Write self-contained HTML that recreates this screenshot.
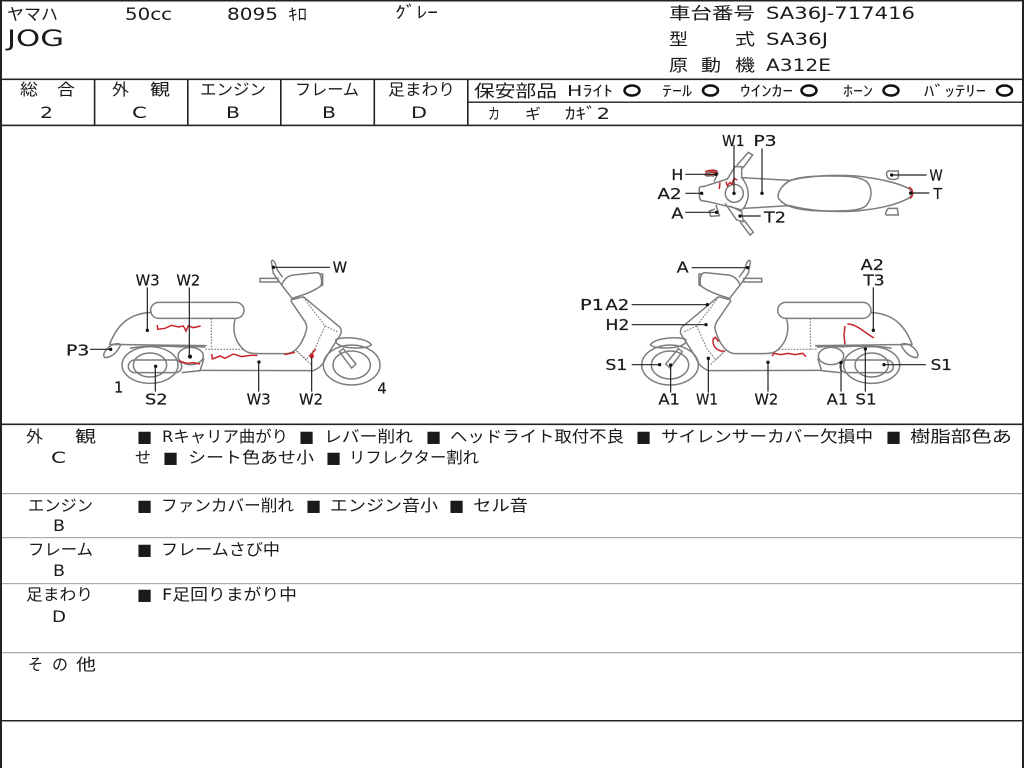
<!DOCTYPE html>
<html lang="ja"><head><meta charset="utf-8"><title>JOG</title>
<style>
html,body{margin:0;padding:0;background:#fff;width:1024px;height:768px;overflow:hidden}
svg{display:block}
text{font-family:"DejaVu Sans","Noto Sans CJK JP",sans-serif;fill:#1a1a1a}
.h{font-size:16.5px}.b{font-size:16px}
.z text{font-size:44px;stroke:#1a1a1a;stroke-width:.6}
.s{fill:none;stroke:#7d7d7d;stroke-width:4.5}
.d{fill:none;stroke:#808080;stroke-width:3.5;stroke-dasharray:5 4}
.r{fill:none;stroke:#c8242c;stroke-width:4.5}
.l{fill:none;stroke:#222;stroke-width:3.6}
.o{fill:none;stroke:#111;stroke-width:2.5}
</style></head><body>
<svg width="1024" height="768" viewBox="0 0 1024 768" xmlns="http://www.w3.org/2000/svg">
<rect width="1024" height="768" fill="#fff"/>
<!-- grid -->
<g fill="#222">
<rect x="0" y="0" width="1024" height="1.5"/>
<rect x="0" y="0" width="2" height="768"/>
<rect x="1022" y="0" width="2" height="768"/>
<rect x="0" y="78.5" width="1024" height="1.6"/>
<rect x="0" y="124.6" width="1024" height="1.6"/>
<rect x="467" y="101.5" width="557" height="1.4"/>
<rect x="93.8" y="79" width="1.6" height="46"/>
<rect x="187" y="79" width="1.6" height="46"/>
<rect x="280" y="79" width="1.6" height="46"/>
<rect x="373.500" y="79" width="1.6" height="46"/>
<rect x="467" y="79" width="1.6" height="46"/>
<rect x="0" y="423.500" width="1024" height="1.6"/>
<rect x="0" y="720" width="1024" height="1.5"/>
</g>
<g fill="#aaa">
<rect x="2" y="493" width="1020" height="1.2"/>
<rect x="2" y="537" width="1020" height="1.2"/>
<rect x="2" y="583" width="1020" height="1.2"/>
<rect x="2" y="652" width="1020" height="1.2"/>
</g>
<!-- header -->
<text class="h" x="7" y="20" textLength="51" lengthAdjust="spacingAndGlyphs">ヤマハ</text>
<text class="h" x="125" y="20" textLength="47" lengthAdjust="spacingAndGlyphs">50cc</text>
<text class="h" x="227" y="20" textLength="51" lengthAdjust="spacingAndGlyphs">8095</text>
<text class="h" x="288" y="20" textLength="19" lengthAdjust="spacingAndGlyphs">ｷﾛ</text>
<text class="h" x="395" y="18" textLength="43" lengthAdjust="spacingAndGlyphs">ｸﾞﾚｰ</text>
<text x="7" y="46" font-size="22" textLength="57" lengthAdjust="spacingAndGlyphs">JOG</text>
<text class="h" x="669" y="19" textLength="86" lengthAdjust="spacingAndGlyphs">車台番号</text>
<text class="h" x="766" y="19" textLength="149" lengthAdjust="spacingAndGlyphs">SA36J-717416</text>
<text class="h" x="669" y="45" textLength="19" lengthAdjust="spacingAndGlyphs">型</text>
<text class="h" x="735" y="45" textLength="20" lengthAdjust="spacingAndGlyphs">式</text>
<text class="h" x="766" y="45" textLength="62" lengthAdjust="spacingAndGlyphs">SA36J</text>
<text class="h" x="669" y="71" textLength="19" lengthAdjust="spacingAndGlyphs">原</text>
<text class="h" x="701" y="71" textLength="20" lengthAdjust="spacingAndGlyphs">動</text>
<text class="h" x="735" y="71" textLength="20" lengthAdjust="spacingAndGlyphs">機</text>
<text class="h" x="766" y="71" textLength="65" lengthAdjust="spacingAndGlyphs">A312E</text>
<!-- score row -->
<text class="b" x="20" y="95" textLength="18" lengthAdjust="spacingAndGlyphs">総</text>
<text class="b" x="57" y="95" textLength="18" lengthAdjust="spacingAndGlyphs">合</text>
<text class="b" x="40" y="118" textLength="13" lengthAdjust="spacingAndGlyphs">2</text>
<text class="b" x="112" y="95" textLength="17" lengthAdjust="spacingAndGlyphs">外</text>
<text class="b" x="150" y="95" textLength="20" lengthAdjust="spacingAndGlyphs">観</text>
<text class="b" x="132" y="118" textLength="15" lengthAdjust="spacingAndGlyphs">C</text>
<text class="b" x="200" y="95" textLength="66" lengthAdjust="spacingAndGlyphs">エンジン</text>
<text class="b" x="226" y="118" textLength="14" lengthAdjust="spacingAndGlyphs">B</text>
<text class="b" x="295" y="95" textLength="64" lengthAdjust="spacingAndGlyphs">フレーム</text>
<text class="b" x="322" y="118" textLength="14" lengthAdjust="spacingAndGlyphs">B</text>
<text class="b" x="388" y="95" textLength="67" lengthAdjust="spacingAndGlyphs">足まわり</text>
<text class="b" x="411" y="118" textLength="16" lengthAdjust="spacingAndGlyphs">D</text>
<!-- safety -->
<text x="474" y="97" font-size="17" textLength="83" lengthAdjust="spacingAndGlyphs">保安部品</text>
<text x="567" y="96" font-size="15" textLength="46" lengthAdjust="spacingAndGlyphs">Hﾗｲﾄ</text>
<ellipse class="o" cx="632" cy="90.5" rx="7.500" ry="5"/>
<text x="662" y="96" font-size="15" textLength="30" lengthAdjust="spacingAndGlyphs">ﾃｰﾙ</text>
<ellipse class="o" cx="710.500" cy="90.500" rx="7.500" ry="5"/>
<text x="740" y="96" font-size="15" textLength="53" lengthAdjust="spacingAndGlyphs">ｳｲﾝｶｰ</text>
<ellipse class="o" cx="809" cy="90.5" rx="7.500" ry="5"/>
<text x="843" y="96" font-size="15" textLength="30" lengthAdjust="spacingAndGlyphs">ﾎｰﾝ</text>
<ellipse class="o" cx="891" cy="90.5" rx="7.500" ry="5"/>
<text x="924" y="96" font-size="15" textLength="62" lengthAdjust="spacingAndGlyphs">ﾊﾞｯﾃﾘｰ</text>
<ellipse class="o" cx="1004.500" cy="90.500" rx="7.500" ry="5"/>
<text x="488" y="119" font-size="15" textLength="12" lengthAdjust="spacingAndGlyphs">カ</text>
<text x="525" y="119" font-size="15" textLength="16" lengthAdjust="spacingAndGlyphs">ギ</text>
<text x="565" y="119" font-size="16" textLength="45" lengthAdjust="spacingAndGlyphs">ｶｷﾞ2</text>

<defs>
<g id="sc">
<!-- seat -->
<rect class="s" x="302" y="157" width="280" height="48" rx="24" fill="#fff"/>
<!-- rear body -->
<path class="s" d="M178 285C195 240 225 190 305 187M180 283L305 285L470 287"/>
<path class="s" d="M165 323C158 318 160 305 178 290C188 282 205 278 212 284C205 300 190 322 165 323Z"/>
<!-- rear wheel and fender -->
<path class="s" d="M240 295C270 288 330 287 380 290C400 292 440 286 465 292"/>
<ellipse class="s" cx="300" cy="345" rx="84" ry="55"/>
<ellipse class="s" cx="300" cy="345" rx="50" ry="36"/>
<rect class="s" x="235" y="330" width="160" height="38" rx="19" fill="#fff"/>
<ellipse class="s" cx="422" cy="318" rx="38" ry="26" fill="#fff"/>
<path class="s" d="M395 368L450 362L462 325"/>
<!-- floor & shields -->
<path class="s" d="M452 361L790 362"/>
<path class="s" d="M556 205C545 240 555 275 580 298C595 312 610 310 630 311L710 311C735 310 755 285 768 245C772 232 770 225 765 215L722 152"/>
<path class="s" d="M760 140L870 232C878 245 872 255 862 268L828 322C822 335 818 350 790 362"/>
<path class="s" d="M722 150L760 140"/>
<!-- handlebar -->
<path class="s" d="M726 145L695 105C700 92 710 78 730 75L800 68C815 66 818 100 812 108C790 125 760 135 726 145Z"/>
<path class="s" d="M808 72L818 72L818 105L810 108"/>
<path class="s" d="M630 85L684 85L684 96L630 96Z" />
<path class="s" d="M695 105L670 70L664 34C668 28 672 32 676 42L682 60L698 82"/>
<!-- dashed -->
<path class="d" d="M484 205L484 298M466 298L580 298M760 142L825 228L866 247M825 228L795 295L768 330L735 298L785 345"/>
<!-- front wheel -->
<ellipse class="s" cx="905" cy="345" rx="85" ry="60"/>
<ellipse class="s" cx="905" cy="345" rx="56" ry="42"/>
<path class="s" d="M858 268C890 258 950 265 964 284C955 296 905 296 880 290C865 285 855 280 858 268Z" fill="#fff"/>
<path class="s" d="M868 305L880 296L918 342L905 354Z" fill="#fff"/>
</g>
</defs>

<!-- left scooter -->
<g class="z" transform="translate(50 250) scale(.33333)">
<use href="#sc"/>
<path class="r" d="M322 225L323 238L345 235L365 226L385 231L400 228L408 243L415 227L430 233L452 228"/>
<path class="r" d="M485 312L487 327L510 318L525 325L550 312L575 320L600 316L622 316"/>
<path class="r" d="M388 333L410 340L430 338L450 342"/>
<path class="r" d="M703 314L735 307"/>
<path class="r" d="M782 322L790 305L797 298" stroke-width="6"/>
<circle cx="785" cy="318" r="7" fill="#c8242c"/>
<g class="l">
<path d="M292 112V240M418 112V320M120 298H180M316 349V425M626 336V425M785 322V425M670 52H840"/>
</g>
<g fill="#111"><circle cx="292" cy="241" r="5"/><circle cx="420" cy="320" r="6"/><circle cx="182" cy="298" r="5"/><circle cx="317" cy="349" r="5"/><circle cx="627" cy="336" r="5"/><circle cx="670" cy="52" r="5"/></g>
<text x="257" y="106" textLength="72" lengthAdjust="spacingAndGlyphs">W3</text><text x="379" y="106" textLength="72" lengthAdjust="spacingAndGlyphs">W2</text><text x="48" y="316" textLength="70" lengthAdjust="spacingAndGlyphs">P3</text>
<text x="192" y="428">1</text><text x="285" y="463" textLength="68" lengthAdjust="spacingAndGlyphs">S2</text><text x="590" y="463" textLength="72" lengthAdjust="spacingAndGlyphs">W3</text><text x="747" y="463" textLength="72" lengthAdjust="spacingAndGlyphs">W2</text>
<text x="982" y="430">4</text><text x="848" y="68">W</text>
</g>

<!-- right scooter -->
<g class="z" transform="translate(971.700 250) scale(-.33333 .33333)">
<use href="#sc"/>
</g>
<g class="z" transform="translate(570 250) scale(.33333)">
<path class="r" d="M825 283L822 255L825 228M832 222C860 222 880 245 912 264"/>
<path class="r" d="M606 318L612 310L632 314L655 310L675 314L698 310L708 320"/>
<path class="r" d="M436 262C425 268 428 285 438 295C448 304 458 304 464 303M428 268L436 262L446 275"/>
<g class="l">
<path d="M365 53H532M185 164H412M185 224H408M185 344H268M302 345V428M415 325V428M594 337V425M813 338V425M886 297V425M910 112V240M945 344H1068"/>
</g>
<g fill="#111"><circle cx="533" cy="53" r="5"/><circle cx="412" cy="164" r="5"/><circle cx="408" cy="224" r="5"/><circle cx="269" cy="344" r="5"/><circle cx="302" cy="345" r="5"/><circle cx="415" cy="325" r="5"/><circle cx="594" cy="337" r="5"/><circle cx="813" cy="338" r="5"/><circle cx="886" cy="297" r="5"/><circle cx="910" cy="241" r="5"/><circle cx="942" cy="344" r="5"/></g>
<text x="320" y="68" textLength="36" lengthAdjust="spacingAndGlyphs">A</text>
<text x="872" y="60" textLength="70" lengthAdjust="spacingAndGlyphs">A2</text><text x="880" y="106" textLength="64" lengthAdjust="spacingAndGlyphs">T3</text>
<text x="30" y="180" textLength="72" lengthAdjust="spacingAndGlyphs">P1</text>
<text x="106" y="180" textLength="72" lengthAdjust="spacingAndGlyphs">A2</text>
<text x="106" y="240" textLength="72" lengthAdjust="spacingAndGlyphs">H2</text>
<text x="106" y="360" textLength="66" lengthAdjust="spacingAndGlyphs">S1</text>
<text x="265" y="463" textLength="65" lengthAdjust="spacingAndGlyphs">A1</text><text x="378" y="463" textLength="66" lengthAdjust="spacingAndGlyphs">W1</text><text x="553" y="463" textLength="72" lengthAdjust="spacingAndGlyphs">W2</text><text x="770" y="463" textLength="65" lengthAdjust="spacingAndGlyphs">A1</text><text x="856" y="463" textLength="64" lengthAdjust="spacingAndGlyphs">S1</text>
<text x="1082" y="360" textLength="64" lengthAdjust="spacingAndGlyphs">S1</text>
</g>

<!-- top view -->
<g class="z" transform="translate(640 125) scale(.33333)">
<path class="s" d="M305 158L450 166C520 150 600 150 650 153C710 160 770 172 805 190C818 200 818 212 805 220C770 240 710 252 650 258C590 262 510 258 450 242L310 250"/>
<path class="s" d="M455 165C420 180 405 215 420 225C440 250 500 258 560 258C620 258 665 258 680 240C700 215 695 185 680 170C655 152 610 153 560 153C520 153 480 155 455 165Z" fill="#fff"/>
<path class="s" d="M178 195C175 185 185 183 190 185L262 162L285 125L305 125L305 158C320 175 330 205 322 225C318 240 312 250 305 255L270 245C240 240 205 228 190 228C180 228 178 220 178 210Z" fill="#fff"/>
<circle class="s" cx="283" cy="205" r="27"/>
<path class="s" d="M290 122L325 82L338 90L308 130"/>
<path class="s" d="M255 235L290 285L310 290L305 260L270 243"/>
<path class="s" d="M300 290L330 330L340 322L312 285"/>
<path class="s" d="M222 170L234 145C228 138 205 138 205 145L222 155"/>
<path class="s" d="M195 150C205 132 232 132 232 142C232 152 200 156 195 150Z"/>
<path class="s" d="M228 240L238 272L212 274L208 258L225 252"/>
<path class="s" d="M745 160C738 152 738 140 745 138L775 138L775 158C770 165 755 165 745 160Z" fill="#fff"/>
<path class="s" d="M745 250C735 262 735 268 740 270L775 270L772 250Z" fill="#fff"/>
<path class="r" d="M196 141C205 134 228 134 230 141C228 150 202 152 196 145M210 142H225M240 172L238 192"/>
<path class="r" d="M258 170L262 182L270 172L276 178L282 160L292 165" stroke-width="5"/>
<path class="r" d="M806 187C820 190 822 212 810 220"/>
<g class="l"><path d="M282 60V205M366 70V205M136 148H228M136 205H185M136 262H230M300 273H362M755 150H860M812 204H868"/></g>
<g fill="#111"><circle cx="282" cy="205" r="5"/><circle cx="366" cy="205" r="5"/><circle cx="228" cy="148" r="5"/><circle cx="185" cy="205" r="5"/><circle cx="230" cy="262" r="5"/><circle cx="300" cy="273" r="5"/><circle cx="755" cy="150" r="5"/><circle cx="812" cy="204" r="5"/></g>
<text x="246" y="63" textLength="68" lengthAdjust="spacingAndGlyphs">W1</text><text x="340" y="63" textLength="70" lengthAdjust="spacingAndGlyphs">P3</text>
<text x="94" y="165" textLength="36" lengthAdjust="spacingAndGlyphs">H</text><text x="52" y="222" textLength="73" lengthAdjust="spacingAndGlyphs">A2</text><text x="94" y="280" textLength="36" lengthAdjust="spacingAndGlyphs">A</text>
<text x="372" y="293" textLength="66" lengthAdjust="spacingAndGlyphs">T2</text><text x="868" y="166" textLength="40" lengthAdjust="spacingAndGlyphs">W</text><text x="880" y="222" textLength="26" lengthAdjust="spacingAndGlyphs">T</text>
</g>

<!-- details -->
<g font-size="16">
<text x="26" y="442" textLength="17" lengthAdjust="spacingAndGlyphs">外</text>
<text x="75" y="442" textLength="21" lengthAdjust="spacingAndGlyphs">観</text>
<text x="51" y="463" textLength="15" lengthAdjust="spacingAndGlyphs">C</text>
<text x="137" y="442">■</text>
<text x="162" y="442" textLength="126" lengthAdjust="spacingAndGlyphs">Rキャリア曲がり</text>
<text x="299" y="442">■</text>
<text x="324" y="442" textLength="89" lengthAdjust="spacingAndGlyphs">レバー削れ</text>
<text x="426" y="442">■</text>
<text x="450" y="442" textLength="174" lengthAdjust="spacingAndGlyphs">ヘッドライト取付不良</text>
<text x="636" y="442">■</text>
<text x="661" y="442" textLength="212" lengthAdjust="spacingAndGlyphs">サイレンサーカバー欠損中</text>
<text x="886" y="442">■</text>
<text x="910" y="442" textLength="102" lengthAdjust="spacingAndGlyphs">樹脂部色あ</text>
<text x="135" y="463" textLength="16" lengthAdjust="spacingAndGlyphs">せ</text>
<text x="163" y="463">■</text>
<text x="188" y="463" textLength="126" lengthAdjust="spacingAndGlyphs">シート色あせ小</text>
<text x="326" y="463">■</text>
<text x="349" y="463" textLength="130" lengthAdjust="spacingAndGlyphs">リフレクター割れ</text>

<text x="28" y="511" textLength="65" lengthAdjust="spacingAndGlyphs">エンジン</text>
<text x="53" y="531" textLength="12" lengthAdjust="spacingAndGlyphs">B</text>
<text x="137" y="511">■</text>
<text x="161" y="511" textLength="133" lengthAdjust="spacingAndGlyphs">ファンカバー削れ</text>
<text x="306" y="511">■</text>
<text x="330" y="511" textLength="108" lengthAdjust="spacingAndGlyphs">エンジン音小</text>
<text x="449" y="511">■</text>
<text x="473" y="511" textLength="55" lengthAdjust="spacingAndGlyphs">セル音</text>

<text x="28" y="555" textLength="65" lengthAdjust="spacingAndGlyphs">フレーム</text>
<text x="53" y="576" textLength="12" lengthAdjust="spacingAndGlyphs">B</text>
<text x="137" y="555">■</text>
<text x="161" y="555" textLength="119" lengthAdjust="spacingAndGlyphs">フレームさび中</text>

<text x="26" y="600" textLength="67" lengthAdjust="spacingAndGlyphs">足まわり</text>
<text x="52" y="622" textLength="14" lengthAdjust="spacingAndGlyphs">D</text>
<text x="137" y="600">■</text>
<text x="162" y="600" textLength="135" lengthAdjust="spacingAndGlyphs">F足回りまがり中</text>

<text x="28" y="670" textLength="15" lengthAdjust="spacingAndGlyphs">そ</text>
<text x="52" y="670" textLength="16" lengthAdjust="spacingAndGlyphs">の</text>
<text x="76" y="670" textLength="20" lengthAdjust="spacingAndGlyphs">他</text>
</g>
</svg>
</body></html>
